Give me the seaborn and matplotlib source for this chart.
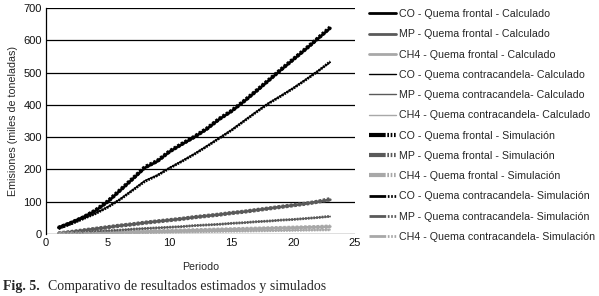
import matplotlib
matplotlib.use("Agg")
import matplotlib.pyplot as plt
import seaborn as sns
import pandas as pd

periodo = list(range(1, 24))
co_frontal_calc = [20, 35, 52, 72, 100, 135, 170, 205, 225, 255, 278, 300, 325, 355, 380, 410, 442, 475, 508, 540, 572, 605, 638]
co_contra_calc = [18, 32, 48, 64, 84, 108, 136, 165, 182, 205, 226, 248, 272, 297, 322, 350, 378, 405, 428, 452, 478, 505, 532]
mp_frontal_calc = [2, 6, 11, 16, 21, 26, 30, 35, 39, 43, 47, 52, 56, 60, 65, 69, 74, 79, 84, 89, 94, 100, 106]
mp_contra_calc = [1, 3, 5, 8, 10, 12, 15, 17, 19, 21, 23, 26, 28, 30, 33, 35, 38, 40, 43, 45, 48, 51, 54]
ch4_frontal_calc = [0.5, 1.5, 2.5, 3.5, 4.5, 5.5, 6.5, 7.5, 8.5, 9.5, 10.5, 11.5, 12.5, 13.5, 14.5, 15.5, 16.5, 17.5, 18.5, 19.5, 20.5, 21.5, 23]
ch4_contra_calc = [0.3, 1, 1.5, 2, 2.7, 3.3, 4, 4.5, 5, 5.6, 6.2, 6.8, 7.3, 7.9, 8.5, 9, 9.6, 10.2, 10.8, 11.3, 11.9, 12.5, 13]
co_frontal_sim = [19, 34, 51, 73, 101, 136, 171, 207, 226, 256, 279, 301, 326, 356, 381, 411, 443, 476, 509, 541, 573, 606, 640]
co_contra_sim = [17, 31, 47, 63, 83, 107, 135, 163, 181, 204, 225, 247, 271, 296, 321, 349, 377, 404, 427, 451, 477, 504, 534]
mp_frontal_sim = [2, 6, 11, 16, 21, 26, 30, 35, 39, 43, 47, 52, 56, 60, 65, 69, 74, 79, 84, 89, 94, 100, 108]
mp_contra_sim = [1, 3, 5, 8, 10, 12, 15, 17, 19, 21, 23, 26, 28, 30, 33, 35, 38, 40, 43, 45, 48, 51, 55]
ch4_frontal_sim = [0.5, 1.5, 2.5, 3.5, 4.5, 5.5, 6.5, 7.5, 8.5, 9.5, 10.5, 11.5, 12.5, 13.5, 14.5, 15.5, 16.5, 17.5, 18.5, 19.5, 20.5, 21.5, 23]
ch4_contra_sim = [0.3, 1, 1.5, 2, 2.7, 3.3, 4, 4.5, 5, 5.6, 6.2, 6.8, 7.3, 7.9, 8.5, 9, 9.6, 10.2, 10.8, 11.3, 11.9, 12.5, 13]

labels = [
    "CO - Quema frontal - Calculado",
    "MP - Quema frontal - Calculado",
    "CH4 - Quema frontal - Calculado",
    "CO - Quema contracandela- Calculado",
    "MP - Quema contracandela- Calculado",
    "CH4 - Quema contracandela- Calculado",
    "CO - Quema frontal - Simulación",
    "MP - Quema frontal - Simulación",
    "CH4 - Quema frontal - Simulación",
    "CO - Quema contracandela- Simulación",
    "MP - Quema contracandela- Simulación",
    "CH4 - Quema contracandela- Simulación",
]
series = [co_frontal_calc, mp_frontal_calc, ch4_frontal_calc,
          co_contra_calc, mp_contra_calc, ch4_contra_calc,
          co_frontal_sim, mp_frontal_sim, ch4_frontal_sim,
          co_contra_sim, mp_contra_sim, ch4_contra_sim]

colors = ["#000000", "#5a5a5a", "#a8a8a8"] * 4
widths = [2.0, 2.0, 2.0, 1.0, 1.0, 1.0, 3.0, 3.0, 3.0, 2.0, 2.0, 2.0]
styles = ["-"] * 6 + [(0, (0.6, 0.4))] * 6

sns.set_style("white")
plt.rcParams['font.family'] = ['Liberation Sans', 'DejaVu Sans']

fig = plt.figure(figsize=(5.99, 2.96), dpi=100)
ax = fig.add_axes([46/599, 1 - 234/296, (355 - 46)/599, (234 - 8)/296])

for lab, vals, c, w, s in zip(labels, series, colors, widths, styles):
    df = pd.DataFrame({"Periodo": periodo, "val": vals})
    sns.lineplot(data=df, x="Periodo", y="val", ax=ax, color=c, lw=w,
                 linestyle=s, label=lab, legend=False)

ax.set_xlim(0, 25)
ax.set_ylim(0, 700)
ax.set_xticks([0, 5, 10, 15, 20, 25])
ax.set_yticks(range(0, 701, 100))
ax.yaxis.grid(True, color="black", lw=0.9)
ax.xaxis.grid(False)
for sp in ["top", "right", "bottom"]:
    ax.spines[sp].set_visible(False)
ax.spines["left"].set_color("black")
ax.spines["left"].set_linewidth(0.9)
ax.tick_params(axis="both", labelsize=8, length=0, pad=3, colors="#111111")
ax.set_xlabel("Periodo", fontsize=7.7, labelpad=10)
ax.set_ylabel("Emisiones (miles de toneladas)", fontsize=7.7, labelpad=4)

handles, labs = ax.get_legend_handles_labels()
leg = fig.legend(handles, labs, loc="upper left", bbox_to_anchor=(369/599, 1 - 9/296),
                 frameon=False, fontsize=7.7, handlelength=2.5, labelspacing=0.96,
                 handletextpad=0.3, borderaxespad=0, borderpad=0)
leg_lines = leg.get_lines()
for i, ln in enumerate(leg_lines[6:]):
    if i < 3:
        ln.set_linestyle((0, (4, 0.4, 0.4, 0.4, 0.4, 0.4, 0.4, 0.4, 0.4, 0.4)))
    else:
        ln.set_linestyle((0, (6, 0.6, 0.6, 0.6, 0.6, 0.6, 0.6, 0.6, 0.6, 0.6)))

fig.text(3/599, 1 - 290/296, "Fig. 5.", fontsize=10, family="Liberation Serif",
         fontweight="bold", va="baseline")
fig.text(48/599, 1 - 290/296, "Comparativo de resultados estimados y simulados",
         fontsize=10, family="Liberation Serif", va="baseline")

fig.savefig("out.png", dpi=100)
